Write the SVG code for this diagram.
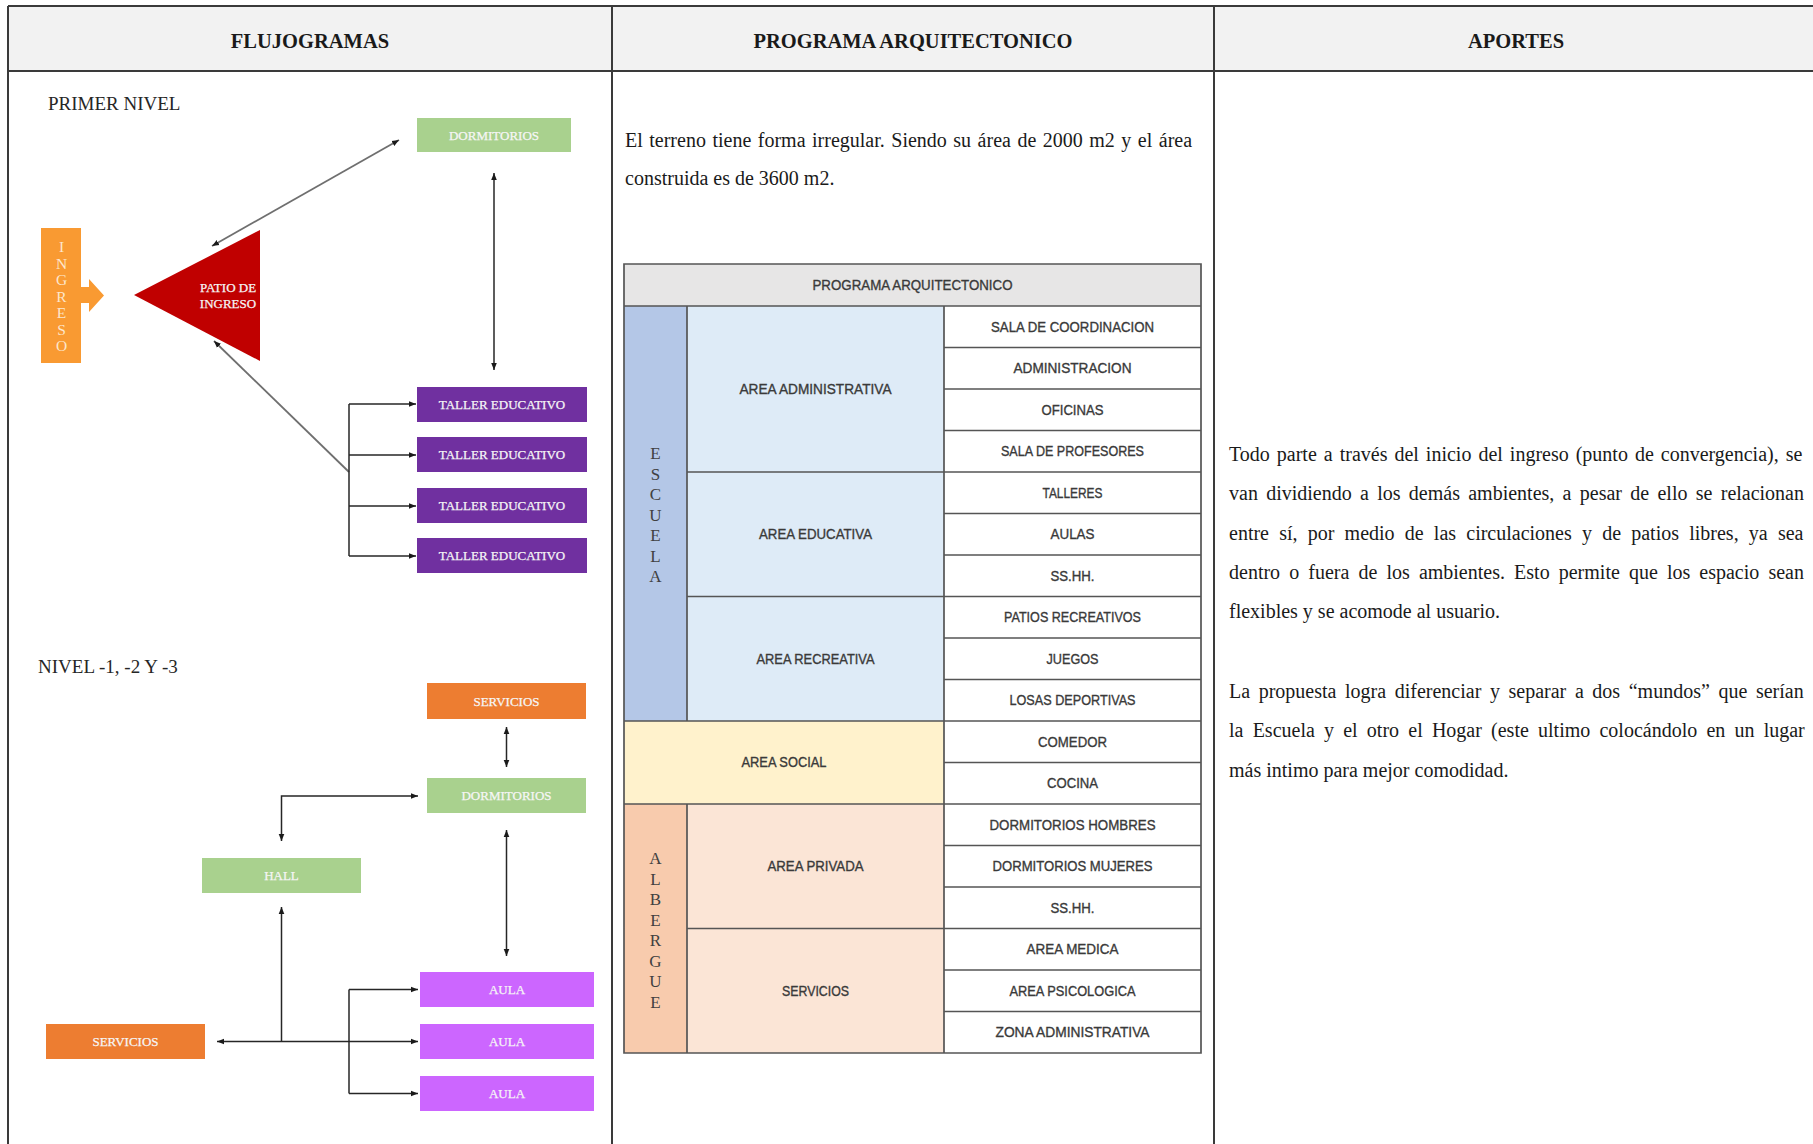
<svg xmlns="http://www.w3.org/2000/svg" width="1813" height="1144" viewBox="0 0 1813 1144">
<defs>
<marker id="ah" viewBox="0 0 10 10" refX="10" refY="5" markerWidth="7" markerHeight="7" markerUnits="userSpaceOnUse" orient="auto-start-reverse"><path d="M0,1 L10,5 L0,9 z" fill="#1a1a1a"/></marker>
</defs>
<style>
.hdr{font-family:"Liberation Serif","Times New Roman",serif;font-weight:bold;font-size:20.5px;fill:#1a1a1a;text-anchor:middle}
.body{font-family:"Liberation Serif","Times New Roman",serif;font-size:20px;fill:#1a1a1a}
.lvl{font-family:"Liberation Serif","Times New Roman",serif;font-size:19px;fill:#262626}
.bx{font-family:"Liberation Serif","Times New Roman",serif;font-size:13px;fill:#f6f6f6;stroke:#f6f6f6;stroke-width:0.25;text-anchor:middle}
.tb{font-family:"Liberation Sans",Arial,sans-serif;font-size:14.5px;fill:#3a3a3a;stroke:#3a3a3a;stroke-width:0.35;text-anchor:middle}
.vl{font-family:"Liberation Serif","Times New Roman",serif;font-size:17px;fill:#404040;text-anchor:middle}
.cn{fill:none;stroke:#262626;stroke-width:1.5}
.cg{fill:none;stroke:#6f6f6f;stroke-width:1.8}
.grid{fill:none;stroke:#555555;stroke-width:1.7}
.frame{fill:none;stroke:#3a3a3a;stroke-width:2}
</style>
<rect width="1813" height="1144" fill="#ffffff"/>

<g id="frame">
<rect x="8" y="6" width="1812" height="65" fill="#f2f2f2"/>
<path class="frame" d="M8,6 H1813 M8,71 H1813 M8,6 V1144 M612,6 V1144 M1214,6 V1144"/>
<text class="hdr" x="310" y="48">FLUJOGRAMAS</text>
<text class="hdr" x="913" y="48">PROGRAMA ARQUITECTONICO</text>
<text class="hdr" x="1516" y="48">APORTES</text>
</g>

<g id="labels">
<text class="lvl" x="48" y="110">PRIMER NIVEL</text>
<text class="lvl" x="38" y="673">NIVEL -1, -2 Y -3</text>
</g>

<g id="connectors">
<path class="cg" d="M399,140 L212,246" marker-start="url(#ah)" marker-end="url(#ah)"/>
<path class="cn" d="M494,173 V370" marker-start="url(#ah)" marker-end="url(#ah)"/>
<path class="cg" d="M349,472 L214,341" marker-end="url(#ah)"/>
<path class="cn" d="M349,404 V556"/>
<path class="cn" d="M349,404 H416" marker-end="url(#ah)"/>
<path class="cn" d="M349,455 H416" marker-end="url(#ah)"/>
<path class="cn" d="M349,506 H416" marker-end="url(#ah)"/>
<path class="cn" d="M349,556 H416" marker-end="url(#ah)"/>
<path class="cn" d="M506.5,727 V767" marker-start="url(#ah)" marker-end="url(#ah)"/>
<path class="cn" d="M418,796 H281.5 V841" marker-start="url(#ah)" marker-end="url(#ah)"/>
<path class="cn" d="M506.5,830 V956" marker-start="url(#ah)" marker-end="url(#ah)"/>
<path class="cn" d="M217,1041.5 H418" marker-start="url(#ah)" marker-end="url(#ah)"/>
<path class="cn" d="M281.5,1041.5 V907" marker-end="url(#ah)"/>
<path class="cn" d="M349,989.5 V1093.5"/>
<path class="cn" d="M349,989.5 H418" marker-end="url(#ah)"/>
<path class="cn" d="M349,1093.5 H418" marker-end="url(#ah)"/>
</g>

<g id="ingreso">
<rect x="41" y="228" width="40" height="135" fill="#f99a32"/>
<polygon points="81,287 89,287 89,279 104,295.5 89,312 89,303 81,303" fill="#f99a32"/>
<g class="vl" style="fill:#fde6cc;font-size:15.5px">
<text x="61.5" y="252">I</text><text x="61.5" y="268.5">N</text><text x="61.5" y="285">G</text><text x="61.5" y="302">R</text><text x="61.5" y="318">E</text><text x="61.5" y="334.5">S</text><text x="61.5" y="350.5">O</text>
</g>
</g>

<g id="patio">
<polygon points="134,295 260,230 260,361" fill="#c00000"/>
<text class="bx" x="228" y="292">PATIO DE</text>
<text class="bx" x="228" y="308">INGRESO</text>
</g>

<g id="dormitorios1"><rect x="417" y="118" width="154" height="34" fill="#a9d18e"/><text class="bx" x="494" y="139.5">DORMITORIOS</text></g>
<g id="taller1"><rect x="417" y="387" width="170" height="35" fill="#7030a0"/><text class="bx" x="502" y="409">TALLER EDUCATIVO</text></g>
<g id="taller2"><rect x="417" y="437" width="170" height="35" fill="#7030a0"/><text class="bx" x="502" y="459">TALLER EDUCATIVO</text></g>
<g id="taller3"><rect x="417" y="488" width="170" height="35" fill="#7030a0"/><text class="bx" x="502" y="510">TALLER EDUCATIVO</text></g>
<g id="taller4"><rect x="417" y="538" width="170" height="35" fill="#7030a0"/><text class="bx" x="502" y="560">TALLER EDUCATIVO</text></g>

<g id="servicios1"><rect x="427" y="683" width="159" height="36" fill="#ed7d31"/><text class="bx" x="506.5" y="705.5">SERVICIOS</text></g>
<g id="dormitorios2"><rect x="427" y="778" width="159" height="35" fill="#a9d18e"/><text class="bx" x="506.5" y="800">DORMITORIOS</text></g>
<g id="hall"><rect x="202" y="858" width="159" height="35" fill="#a9d18e"/><text class="bx" x="281.5" y="880">HALL</text></g>
<g id="aula1"><rect x="420" y="972" width="174" height="35" fill="#cc66ff"/><text class="bx" x="507" y="994">AULA</text></g>
<g id="aula2"><rect x="420" y="1024" width="174" height="35" fill="#cc66ff"/><text class="bx" x="507" y="1046">AULA</text></g>
<g id="aula3"><rect x="420" y="1076" width="174" height="35" fill="#cc66ff"/><text class="bx" x="507" y="1098">AULA</text></g>
<g id="servicios2"><rect x="46" y="1024" width="159" height="35" fill="#ed7d31"/><text class="bx" x="125.5" y="1046">SERVICIOS</text></g>

<g id="programa-texto">
<text class="body" x="625" y="146.5" style="word-spacing:1.5px">El terreno tiene forma irregular. Siendo su área de 2000 m2 y el área</text>
<text class="body" x="625" y="185">construida es de 3600 m2.</text>
</g>

<g id="tabla">
<rect x="624" y="264" width="577" height="42" fill="#e7e6e6"/>
<rect x="624" y="306" width="63" height="415" fill="#b4c7e7"/>
<rect x="687" y="306" width="257" height="415" fill="#deebf7"/>
<rect x="624" y="721" width="320" height="83" fill="#fff2cc"/>
<rect x="624" y="804" width="63" height="249" fill="#f8cbad"/>
<rect x="687" y="804" width="257" height="249" fill="#fbe5d6"/>
<rect x="944" y="306" width="257" height="747" fill="#ffffff"/>
<path class="grid" d="M624,264 H1201 V1053 H624 Z M624,306 H1201 M687,306 V721 M687,804 V1053 M944,306 V1053 M687,472 H944 M687,596.5 H944 M624,721 H944 M624,804 H944 M687,928.5 H944
M944,347.5 H1201 M944,389 H1201 M944,430.5 H1201 M944,472 H1201 M944,513.5 H1201 M944,555 H1201 M944,596.5 H1201 M944,638 H1201 M944,679.5 H1201 M944,721 H1201 M944,762.5 H1201 M944,804 H1201 M944,845.5 H1201 M944,887 H1201 M944,928.5 H1201 M944,970 H1201 M944,1011.5 H1201"/>
<text class="tb" x="912.5" y="290" textLength="200" lengthAdjust="spacingAndGlyphs">PROGRAMA ARQUITECTONICO</text>
<g class="vl">
<text x="655.5" y="459">E</text><text x="655.5" y="479.5">S</text><text x="655.5" y="500">C</text><text x="655.5" y="520.5">U</text><text x="655.5" y="541">E</text><text x="655.5" y="561.5">L</text><text x="655.5" y="582">A</text>
<text x="655.5" y="864">A</text><text x="655.5" y="884.5">L</text><text x="655.5" y="905">B</text><text x="655.5" y="925.5">E</text><text x="655.5" y="946">R</text><text x="655.5" y="966.5">G</text><text x="655.5" y="987">U</text><text x="655.5" y="1007.5">E</text>
</g>
<text class="tb" x="815.5" y="394" textLength="152" lengthAdjust="spacingAndGlyphs">AREA ADMINISTRATIVA</text>
<text class="tb" x="815.5" y="539" textLength="113" lengthAdjust="spacingAndGlyphs">AREA EDUCATIVA</text>
<text class="tb" x="815.5" y="663.5" textLength="118" lengthAdjust="spacingAndGlyphs">AREA RECREATIVA</text>
<text class="tb" x="784" y="767" textLength="85" lengthAdjust="spacingAndGlyphs">AREA SOCIAL</text>
<text class="tb" x="815.5" y="871" textLength="96" lengthAdjust="spacingAndGlyphs">AREA PRIVADA</text>
<text class="tb" x="815.5" y="995.5" textLength="67" lengthAdjust="spacingAndGlyphs">SERVICIOS</text>
<text class="tb" x="1072.5" y="331.5" textLength="163" lengthAdjust="spacingAndGlyphs">SALA DE COORDINACION</text>
<text class="tb" x="1072.5" y="373" textLength="118" lengthAdjust="spacingAndGlyphs">ADMINISTRACION</text>
<text class="tb" x="1072.5" y="414.5" textLength="62" lengthAdjust="spacingAndGlyphs">OFICINAS</text>
<text class="tb" x="1072.5" y="456" textLength="143" lengthAdjust="spacingAndGlyphs">SALA DE PROFESORES</text>
<text class="tb" x="1072.5" y="497.5" textLength="60" lengthAdjust="spacingAndGlyphs">TALLERES</text>
<text class="tb" x="1072.5" y="539" textLength="44" lengthAdjust="spacingAndGlyphs">AULAS</text>
<text class="tb" x="1072.5" y="580.5" textLength="44" lengthAdjust="spacingAndGlyphs">SS.HH.</text>
<text class="tb" x="1072.5" y="622" textLength="137" lengthAdjust="spacingAndGlyphs">PATIOS RECREATIVOS</text>
<text class="tb" x="1072.5" y="663.5" textLength="52" lengthAdjust="spacingAndGlyphs">JUEGOS</text>
<text class="tb" x="1072.5" y="705" textLength="126" lengthAdjust="spacingAndGlyphs">LOSAS DEPORTIVAS</text>
<text class="tb" x="1072.5" y="746.5" textLength="69" lengthAdjust="spacingAndGlyphs">COMEDOR</text>
<text class="tb" x="1072.5" y="788" textLength="51" lengthAdjust="spacingAndGlyphs">COCINA</text>
<text class="tb" x="1072.5" y="829.5" textLength="166" lengthAdjust="spacingAndGlyphs">DORMITORIOS HOMBRES</text>
<text class="tb" x="1072.5" y="871" textLength="160" lengthAdjust="spacingAndGlyphs">DORMITORIOS MUJERES</text>
<text class="tb" x="1072.5" y="912.5" textLength="44" lengthAdjust="spacingAndGlyphs">SS.HH.</text>
<text class="tb" x="1072.5" y="954" textLength="92" lengthAdjust="spacingAndGlyphs">AREA MEDICA</text>
<text class="tb" x="1072.5" y="995.5" textLength="126" lengthAdjust="spacingAndGlyphs">AREA PSICOLOGICA</text>
<text class="tb" x="1072.5" y="1037" textLength="154" lengthAdjust="spacingAndGlyphs">ZONA ADMINISTRATIVA</text>
</g>

<g id="aportes">
<text class="body" x="1229" y="461" style="word-spacing:2px">Todo parte a través del inicio del ingreso (punto de convergencia), se</text>
<text class="body" x="1229" y="500" style="word-spacing:3.3px">van dividiendo a los demás ambientes, a pesar de ello se relacionan</text>
<text class="body" x="1229" y="540" style="word-spacing:5.2px">entre sí, por medio de las circulaciones y de patios libres, ya sea</text>
<text class="body" x="1229" y="579" style="word-spacing:4.1px">dentro o fuera de los ambientes. Esto permite que los espacio sean</text>
<text class="body" x="1229" y="618">flexibles y se acomode al usuario.</text>
<text class="body" x="1229" y="698" style="word-spacing:3.6px">La propuesta logra diferenciar y separar a dos “mundos” que serían</text>
<text class="body" x="1229" y="737" style="word-spacing:4.2px">la Escuela y el otro el Hogar (este ultimo colocándolo en un lugar</text>
<text class="body" x="1229" y="777">más intimo para mejor comodidad.</text>
</g>
</svg>
